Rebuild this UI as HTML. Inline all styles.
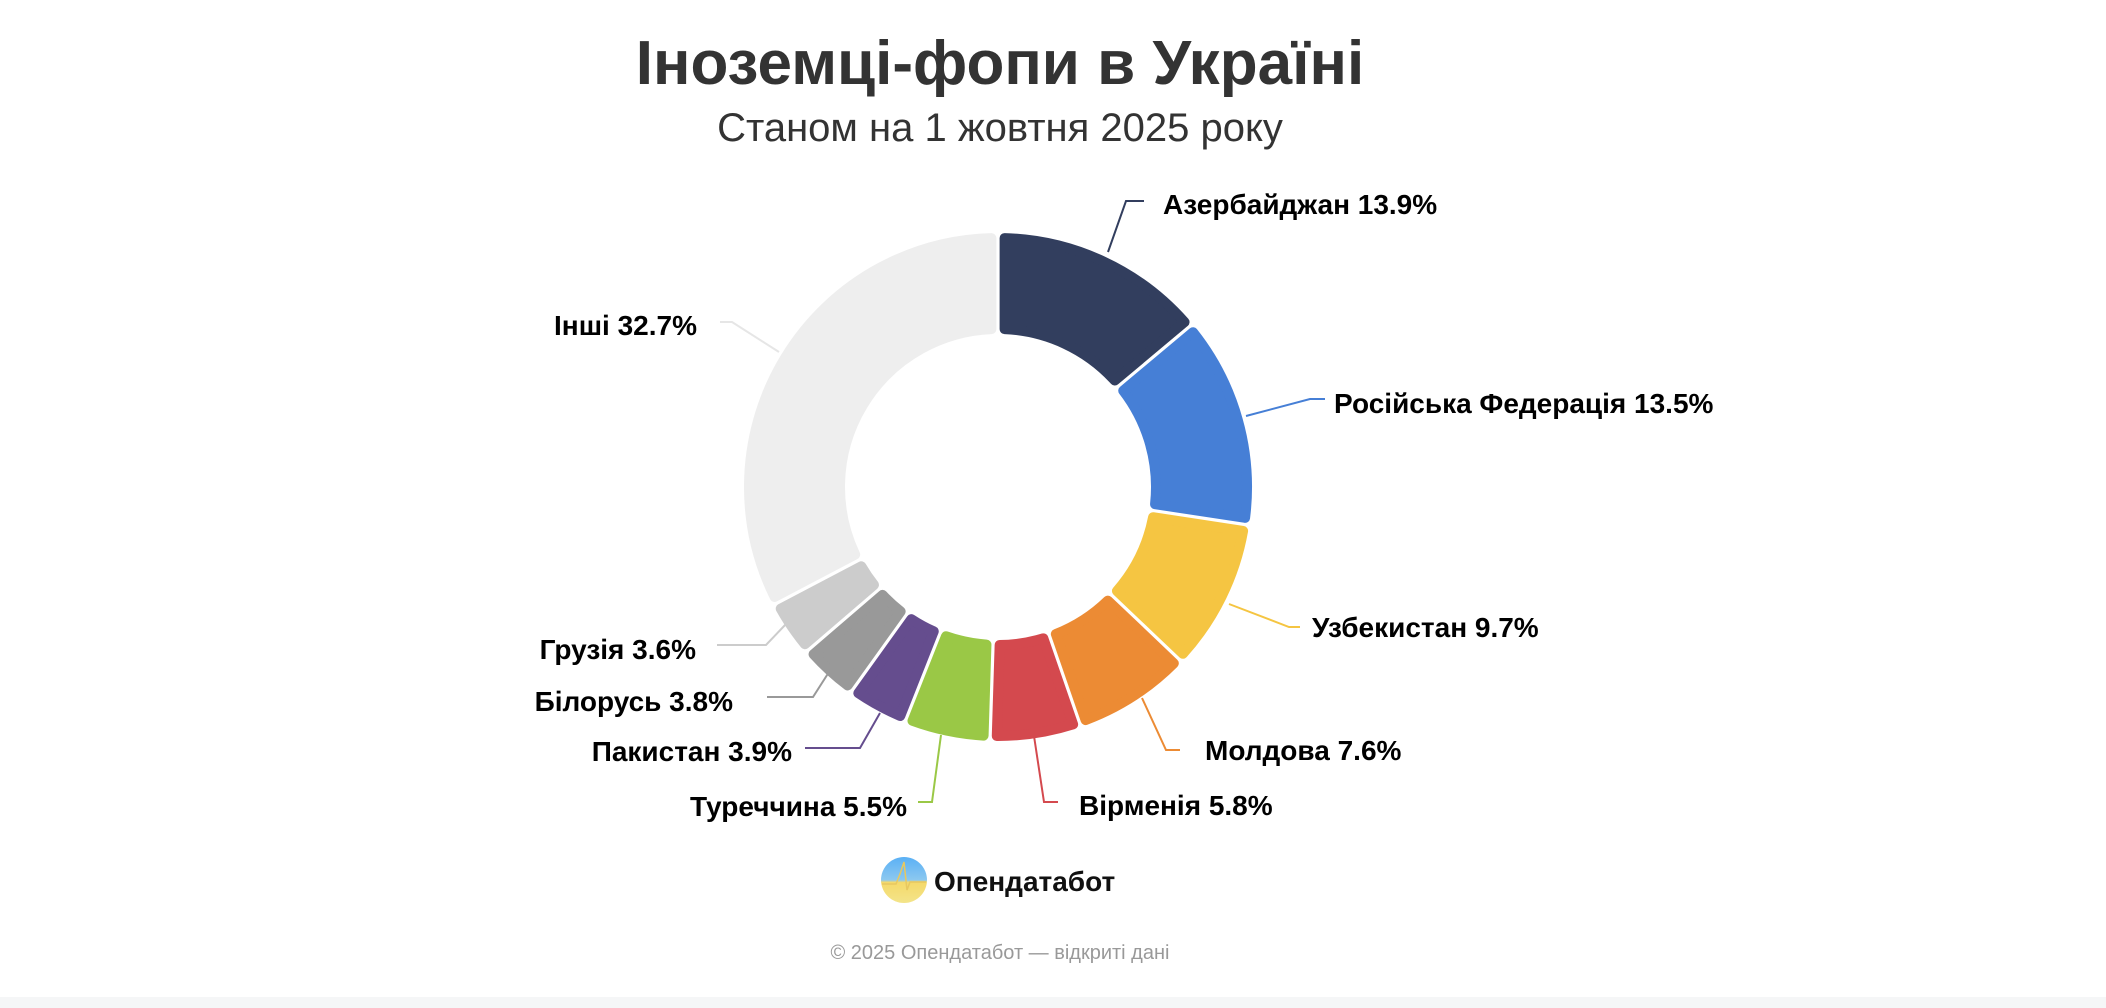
<!DOCTYPE html>
<html><head><meta charset="utf-8"><style>
html,body{margin:0;padding:0;background:#fff;}
svg{display:block;}
text{font-family:"Liberation Sans","Noto Sans CJK SC",sans-serif;}
.l{font-size:28px;font-weight:bold;fill:#000;}
</style></head><body>
<svg id="s" width="2106" height="1008" viewBox="0 0 2106 1008" xmlns="http://www.w3.org/2000/svg">
<rect x="0" y="997" width="2106" height="11" fill="#f5f6f7"/>
<text x="1000" y="84" text-anchor="middle" font-size="62" font-weight="bold" fill="#333">Іноземці-фопи в Україні</text>
<text x="1000" y="141" text-anchor="middle" font-size="40" fill="#333">Станом на 1 жовтня 2025 року</text>
<g id="donut"></g>
<g fill="none" stroke-width="2">
<polyline points="1108,252 1126,201 1144,201" stroke="#323e5e"/>
<polyline points="1246,416 1310,399 1325,399" stroke="#467fd6"/>
<polyline points="1229,604 1289,627 1300,627" stroke="#f5c542"/>
<polyline points="1142,698 1166,750 1180,750" stroke="#ec8b34"/>
<polyline points="1034,736 1044,802 1058,802" stroke="#d4494e"/>
<polyline points="941,735 932,802 918,802" stroke="#9ac846"/>
<polyline points="880,713 860,748 805,748" stroke="#654d8e"/>
<polyline points="829,672 813,697 767,697" stroke="#999"/>
<polyline points="786,624 766,645 717,645" stroke="#ccc"/>
<polyline points="779,352 732,322 720,322" stroke="#e6e6e6"/>
</g>
<text class="l" x="1163" y="214">Азербайджан 13.9%</text>
<text class="l" x="1334" y="413">Російська Федерація 13.5%</text>
<text class="l" x="1312" y="637">Узбекистан 9.7%</text>
<text class="l" x="1205" y="760">Молдова 7.6%</text>
<text class="l" x="1079" y="815">Вірменія 5.8%</text>
<text class="l" x="907" y="816" text-anchor="end">Туреччина 5.5%</text>
<text class="l" x="792" y="761" text-anchor="end">Пакистан 3.9%</text>
<text class="l" x="733" y="711" text-anchor="end">Білорусь 3.8%</text>
<text class="l" x="696" y="659" text-anchor="end">Грузія 3.6%</text>
<text class="l" x="697" y="335" text-anchor="end">Інші 32.7%</text>
<defs><linearGradient id="lg" x1="0" y1="0" x2="0" y2="1">
<stop offset="0" stop-color="#5ab0f5"/><stop offset="0.5" stop-color="#8cc8f0"/><stop offset="0.55" stop-color="#f5d96a"/><stop offset="1" stop-color="#f3e48a"/></linearGradient></defs>
<circle cx="904" cy="880" r="23" fill="url(#lg)"/>
<polyline points="882,884 896,884 900,874 904,862 907,890 910,882 926,882" fill="none" stroke="#e8c860" stroke-width="1.5"/>
<text x="934" y="891" font-size="28" font-weight="bold" fill="#111">Опендатабот</text>
<text x="1000" y="959" text-anchor="middle" font-size="20" fill="#999">© 2025 Опендатабот — відкриті дані</text>
</svg>
<script>
(function(){
var cx=998,cy=487,R=254,r=153,d=5,gap=1.6;
var data=[[13.9,"#323e5e"],[13.5,"#467fd6"],[9.7,"#f5c542"],[7.6,"#ec8b34"],[5.8,"#d4494e"],[5.5,"#9ac846"],[3.9,"#654d8e"],[3.8,"#999999"],[3.6,"#cccccc"],[32.7,"#eeeeee"]];
var tot=0;data.forEach(function(x){tot+=x[0];});
var g=document.getElementById("donut"),a=0,h="";
function pt(rad,ang){return [cx+rad*Math.sin(ang),cy-rad*Math.cos(ang)];}
data.forEach(function(x){
 var a0=a/tot*2*Math.PI; a+=x[0]; var a1=a/tot*2*Math.PI;
 var Ro=R-d, Ri=r+d, o=d+gap;
 var ao0=a0+o/Ro, ao1=a1-o/Ro, ai0=a0+o/Ri, ai1=a1-o/Ri;
 var p1=pt(Ro,ao0),p2=pt(Ro,ao1),p3=pt(Ri,ai1),p4=pt(Ri,ai0);
 var lo=(ao1-ao0)>Math.PI?1:0, li=(ai1-ai0)>Math.PI?1:0;
 h+='<path d="M'+p1+' A'+Ro+','+Ro+' 0 '+lo+' 1 '+p2+' L'+p3+' A'+Ri+','+Ri+' 0 '+li+' 0 '+p4+' Z" fill="'+x[1]+'" stroke="'+x[1]+'" stroke-width="'+(2*d)+'" stroke-linejoin="round"/>';
});
g.innerHTML=h;
})();
</script>
</body></html>
